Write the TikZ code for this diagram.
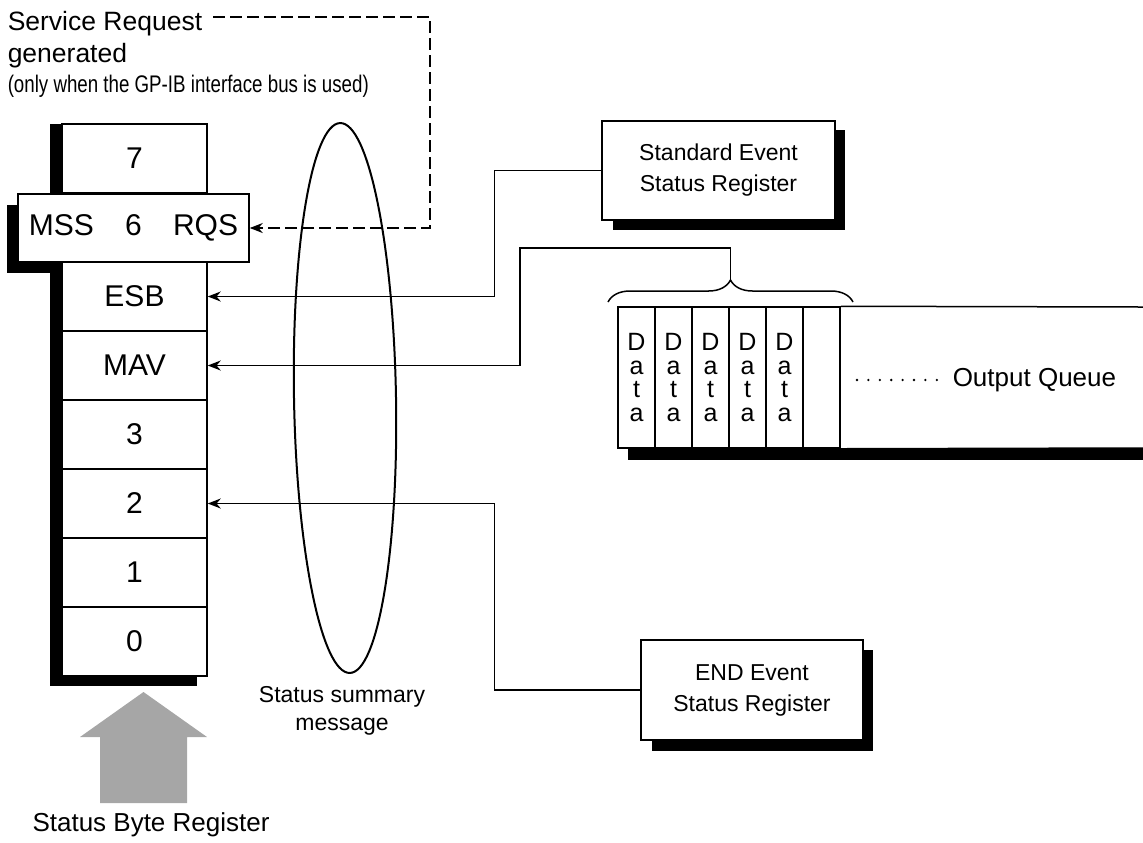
\documentclass[tikz,border=0pt]{standalone}
\usepackage{fontspec}
\usepackage{graphicx}
\setmainfont{Liberation Sans}
\usetikzlibrary{arrows.meta,decorations.pathreplacing}
\begin{document}
\begin{tikzpicture}[x=0.5pt,y=-0.5pt,line width=0.75pt,
  cell/.style={draw,fill=white,minimum width=72.5pt,minimum height=34.5pt,inner sep=0pt,font=\fontsize{15}{18}\selectfont},
  regbox/.style={draw,fill=white,align=center,inner sep=0pt,font=\fontsize{11.5}{15.5}\selectfont},
  qcell/.style={draw,fill=white,minimum width=18.5pt,minimum height=70.5pt,inner sep=0pt,align=center,font=\fontsize{12.5}{11.7}\selectfont},
  txt/.style={inner sep=0pt},
  arr/.style={-{Stealth[length=6.5pt,width=5pt]}},
  shadowfill/.style={fill=black,draw=none}]
\useasboundingbox (0,0) rectangle (1143,842);

% top labels
\node[txt,anchor=base west,font=\fontsize{13.25}{16}\selectfont] (sr) at (7,30) {Service Request};
\node[txt,anchor=base west,font=\fontsize{13.25}{16}\selectfont] (gen) at (7,62) {generated};
\node[txt,anchor=base west,font=\fontsize{12}{14}\selectfont] (only) at (7,92) {\scalebox{0.78}[1]{(only when the GP-IB interface bus is used)}};

% shadows of register column
\fill[shadowfill] (50,124) rectangle (197,686);
\fill[shadowfill] (7,205) rectangle (62,273);

% register cells
\node[cell] (c7)  at (134.5,158.5) {7};
\node[cell] (esb) at (134.5,296.5) {ESB};
\node[cell] (mav) at (134.5,365.5) {MAV};
\node[cell] (c3)  at (134.5,434.5) {3};
\node[cell] (c2)  at (134.5,503.5) {2};
\node[cell] (c1)  at (134.5,572.5) {1};
\node[cell] (c0)  at (134.5,641.5) {0};
\node[cell,minimum width=115.5pt,minimum height=34pt] (mss) at (133.5,228) {MSS\hspace{15.6pt}6\hspace{15.6pt}RQS};

% status summary ellipse
\draw[line width=1pt,rotate around={1:(345,398)}] (345,398) ellipse [x radius=25.5pt, y radius=137.5pt];
\node[txt,align=center,font=\fontsize{11.5}{14}\selectfont] (ssm) at (342,711) {Status summary\\message};

% Standard Event Status Register
\fill[shadowfill] (613,130) rectangle (845,230);
\node[regbox,minimum width=116.5pt,minimum height=49.5pt] (ser) at (718.5,170.5) {Standard Event\\Status Register};

% END Event Status Register
\fill[shadowfill] (652,650) rectangle (873,751);
\node[regbox,minimum width=111pt,minimum height=50pt] (endr) at (752,690) {END Event\\Status Register};

% output queue
\fill[shadowfill] (628,449) rectangle (1143,460);
\foreach \i/\t in {1/{D\\a\\t\\a},2/{D\\a\\t\\a},3/{D\\a\\t\\a},4/{D\\a\\t\\a},5/{D\\a\\t\\a},6/{}} {
  \node[qcell] (qc\i) at ({636.5+37*(\i-1)},377.5) {\t};
}
\draw (qc6.north east) -- (1143,307);
\draw (qc6.south east) -- (1143,448);
\draw[decorate,decoration={brace,amplitude=11pt}] (608,302) -- (853,302);
\coordinate (qtip) at (730.5,280);
\node[txt,anchor=west,font=\fontsize{13}{16}\selectfont] (oq) at (952,380) {Output Queue};
\coordinate (dots0) at (857,380);
\draw[dash pattern=on 0pt off 5.7pt,line cap=round,line width=1.3pt] (dots0) -- ([xshift=-6pt]oq.west);

% connectors
\coordinate (d0) at (213,17);
\draw[dash pattern=on 6pt off 2.5pt,arr] (d0) -- (430,17) |- (mss.east);
\draw[arr] (ser.west) -- ++(-107,0) |- (esb.east);
\draw[arr] (qtip) -- (730.5,248) -- (520,248) |- (mav.east);
\draw[arr] (endr.west) -- ++(-146,0) |- (c2.east);

% big gray arrow
\fill[black!35] (143.5,692) -- (207,737) -- (187,737) -- (187,803) -- (100,803) -- (100,737) -- (80,737) -- cycle;
\node[txt,font=\fontsize{13}{16}\selectfont] (sbr) at (151,825) {Status Byte Register};
\end{tikzpicture}
\end{document}
